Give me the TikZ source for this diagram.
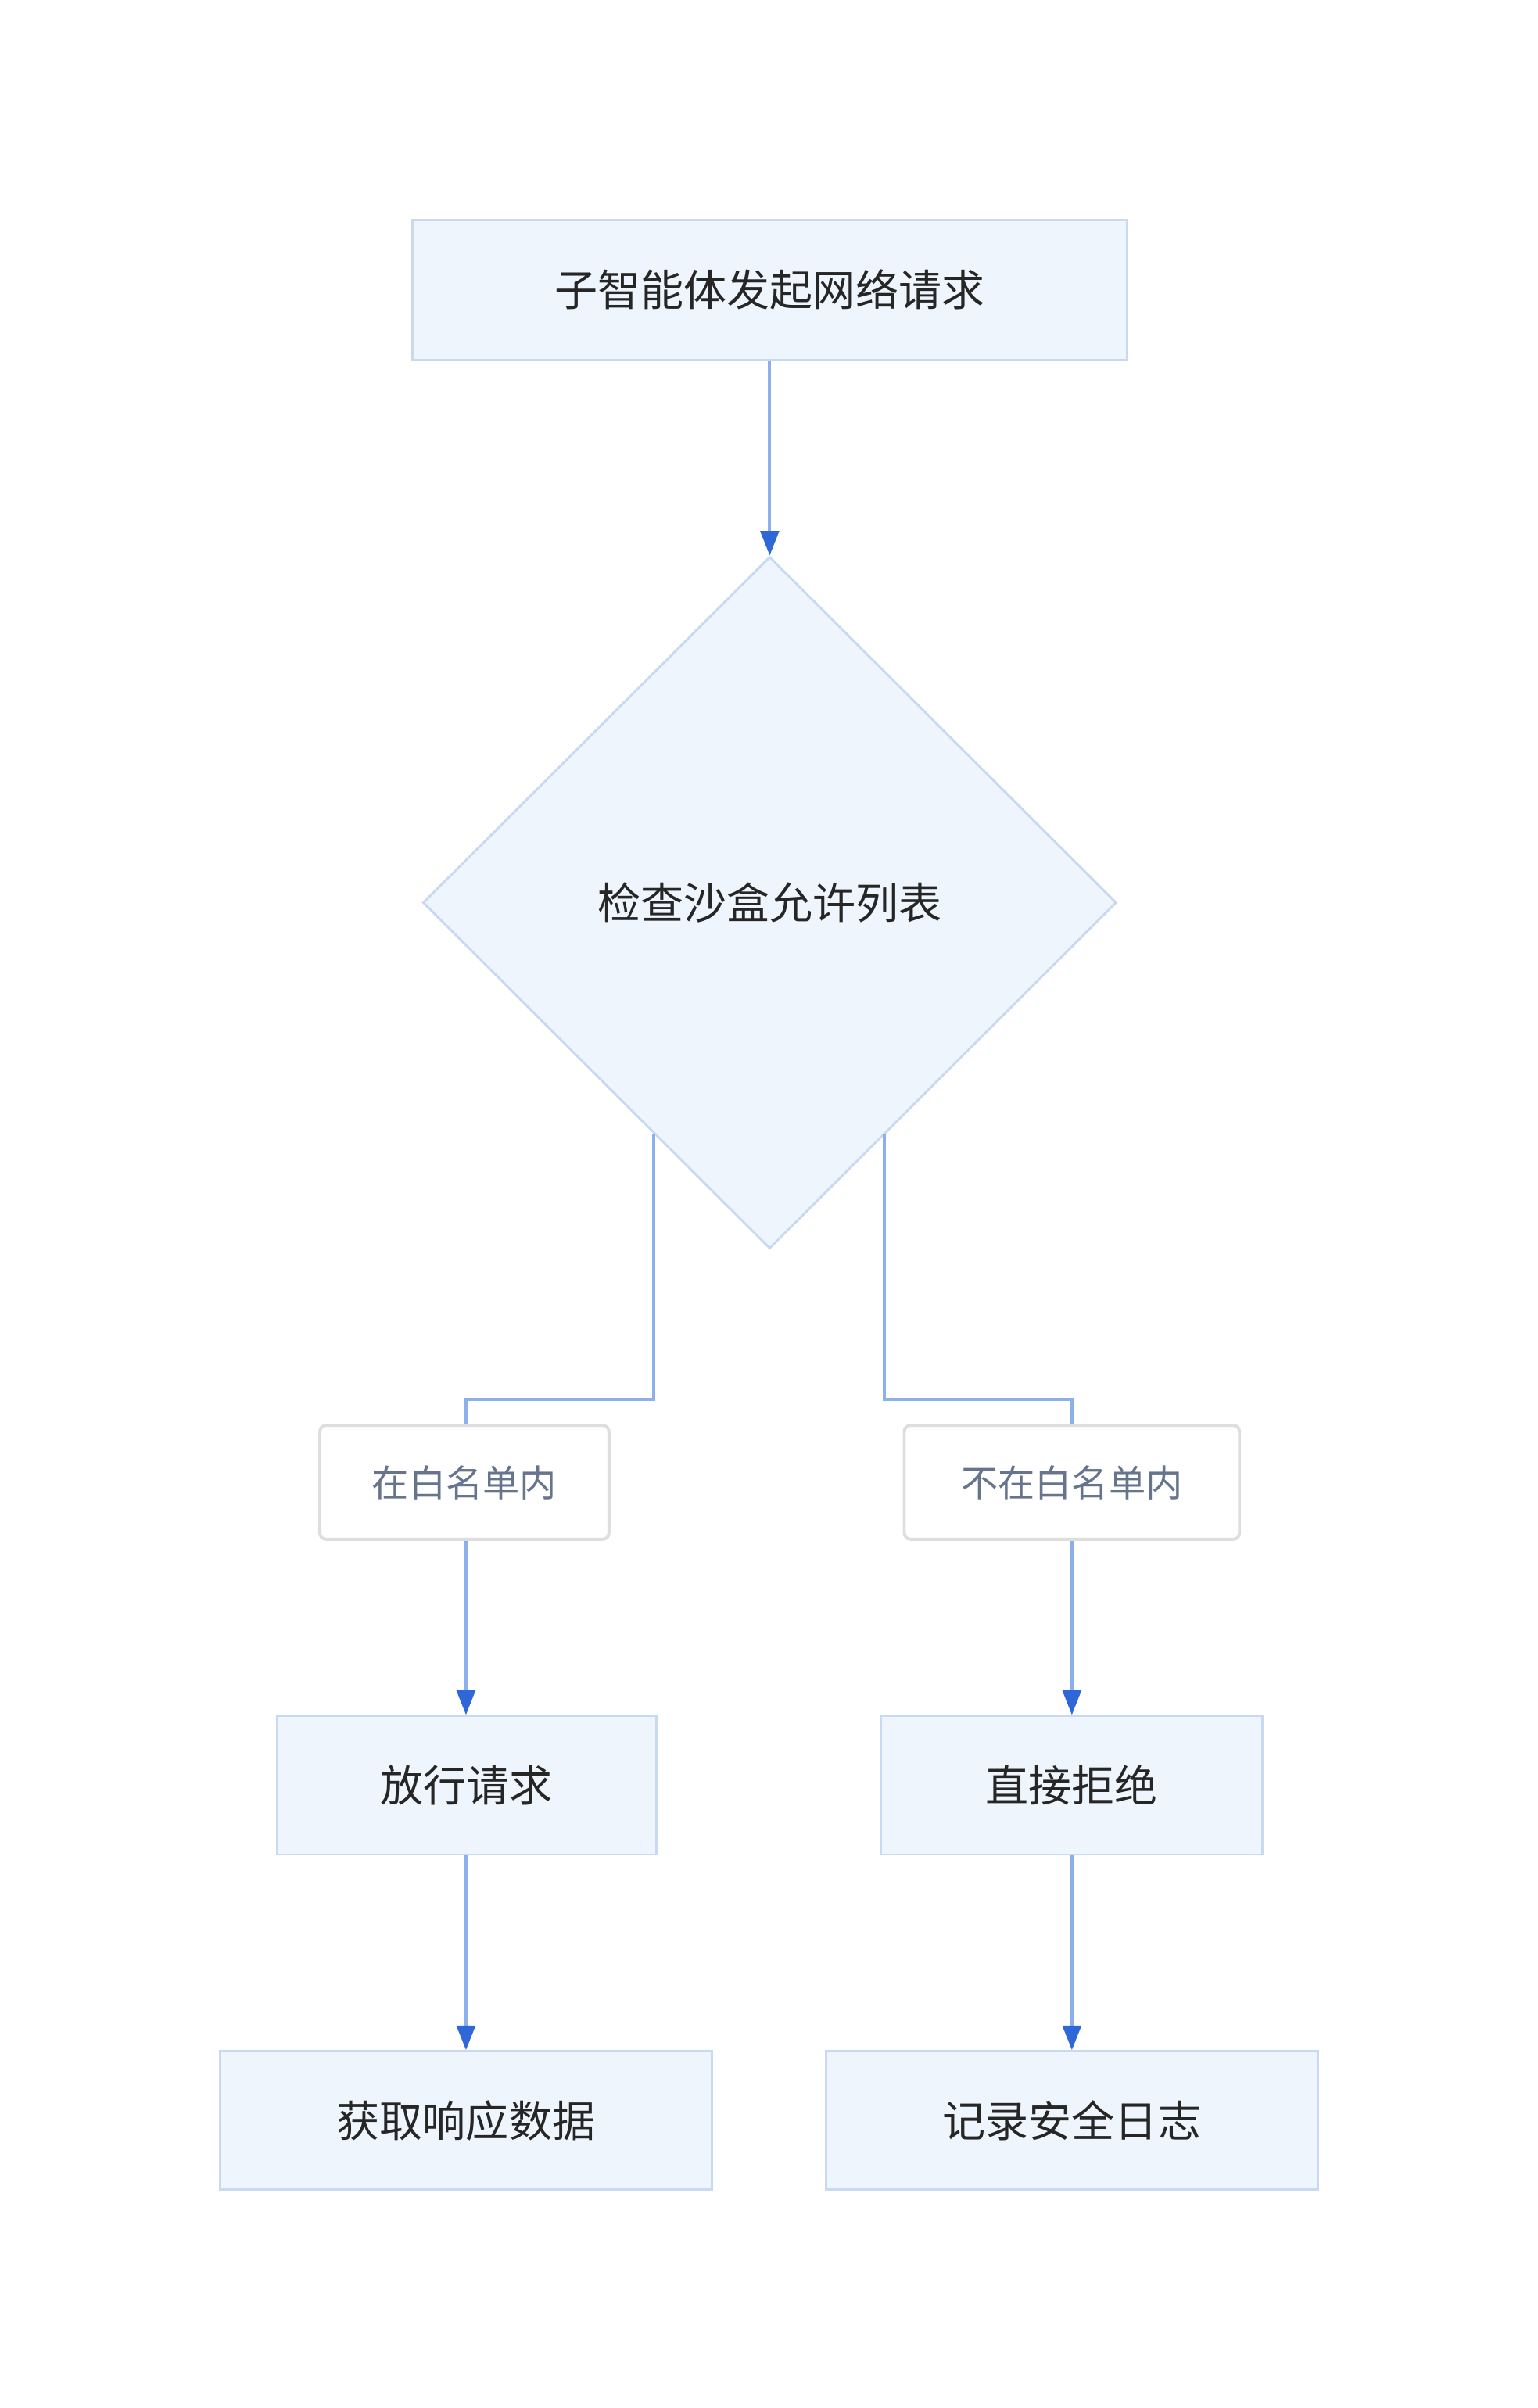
\documentclass[tikz,border=0pt]{standalone}
\usepackage{fontspec}
\setmainfont{Noto Sans CJK SC}
\usetikzlibrary{shapes.geometric,arrows.meta}
\definecolor{nfill}{HTML}{EFF5FD}
\definecolor{nbord}{HTML}{C8DAF1}
\definecolor{eline}{HTML}{8CB0EA}
\definecolor{ehead}{HTML}{2F66D8}
\definecolor{ltext}{HTML}{66758C}
\definecolor{lbord}{HTML}{DEDEDE}
\begin{document}
\begin{tikzpicture}[x=1pt,y=-1pt,
 box/.style={draw=nbord,fill=nfill,line width=1.5pt,inner sep=0pt,font=\fontsize{28}{32}\selectfont,text=black!85},
 lab/.style={draw=lbord,fill=white,line width=2pt,rounded corners=4pt,inner sep=0pt,font=\fontsize{24}{28}\selectfont,text=ltext},
 edge/.style={draw=eline,line width=2pt},
 arr/.style={edge,-{Triangle[length=16pt,width=12pt,color=ehead]}}]
\useasboundingbox (0,0) rectangle (1000,1566);
\node[box,minimum width=465pt,minimum height=91pt] (a) at (500.5,188.5) {子智能体发起网络请求};
\node[box,diamond,minimum width=451pt,minimum height=450pt,aspect=1] (d) at (500.5,587) {检查沙盒允许列表};
\node[lab,minimum width=188pt,minimum height=74pt] (l1) at (302,964) {在白名单内};
\node[lab,minimum width=218pt,minimum height=74pt] (l2) at (697,964) {不在白名单内};
\node[box,minimum width=247pt,minimum height=90pt] (b1) at (303.5,1161) {放行请求};
\node[box,minimum width=248pt,minimum height=90pt] (b2) at (697,1161) {直接拒绝};
\node[box,minimum width=320pt,minimum height=90pt] (c1) at (303,1379) {获取响应数据};
\node[box,minimum width=320pt,minimum height=90pt] (c2) at (697,1379) {记录安全日志};
\coordinate (p1) at (425,737);
\coordinate (p2) at (575,737);
\draw[arr] (a) -- (d.north);
\draw[edge] (p1) -- (425,910) -- (303,910) -- (l1.north -| 303,0);
\draw[edge] (p2) -- (575,910) -- (697,910) -- (l2.north);
\draw[arr] (l1.south -| 303,0) -- (b1.north -| 303,0);
\draw[arr] (l2) -- (b2);
\draw[arr] (b1.south -| 303,0) -- (c1.north -| 303,0);
\draw[arr] (b2) -- (c2);
\end{tikzpicture}
\end{document}
